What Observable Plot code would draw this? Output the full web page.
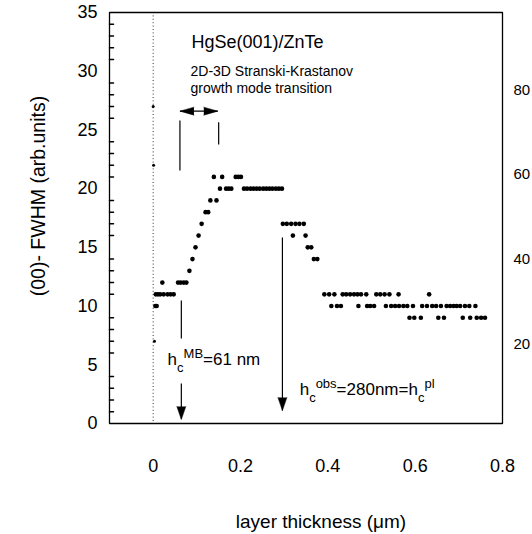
<!DOCTYPE html>
<html><head><meta charset="utf-8">
<script src="https://cdn.jsdelivr.net/npm/d3@7"></script>
<script src="https://cdn.jsdelivr.net/npm/@observablehq/plot@0.6"></script>
<style>html,body{margin:0;padding:0;background:#fff}#chart{position:relative;width:532px;height:534px}</style>
</head><body><div id="chart"></div>
<script>
// ---- data ----
const startThickness = [0.000, 0.001, 0.003];
const startFwhm = [27, 22, 7];

const thickness = [
  0.005, 0.008, 0.006, 0.011, 0.016, 0.021, 0.024, 0.033, 0.040, 0.047,
  0.057, 0.063, 0.070, 0.076, 0.083, 0.090, 0.097, 0.104, 0.111, 0.120,
  0.126, 0.131, 0.139, 0.145, 0.153, 0.158, 0.167, 0.173, 0.179, 0.189,
  0.195, 0.201, 0.208, 0.215, 0.223, 0.230, 0.237, 0.244, 0.252, 0.259,
  0.266, 0.273, 0.281, 0.288, 0.295, 0.297, 0.306, 0.316, 0.320, 0.326,
  0.335, 0.345, 0.349, 0.354, 0.362, 0.368, 0.376, 0.392, 0.403, 0.408,
  0.415, 0.421, 0.430, 0.434, 0.442, 0.451, 0.460, 0.468, 0.470, 0.476,
  0.488, 0.490, 0.497, 0.506, 0.511, 0.520, 0.530, 0.533, 0.541, 0.545,
  0.554, 0.562, 0.563, 0.573, 0.582, 0.587, 0.595, 0.598, 0.613, 0.616,
  0.627, 0.632, 0.639, 0.648, 0.653, 0.659, 0.666, 0.672, 0.680, 0.688,
  0.695, 0.703, 0.709, 0.714, 0.724, 0.726, 0.738, 0.741, 0.751, 0.760
];
const fwhm = [
  10, 10, 11, 11, 11, 12, 11, 11, 11, 11,
  12, 12, 12, 12, 13, 14, 15, 16, 17, 18,
  18, 19, 21, 19, 20, 21, 20, 20, 20, 21,
  21, 21, 20, 20, 20, 20, 20, 20, 20, 20,
  20, 20, 20, 20, 20, 17, 17, 17, 16, 17,
  17, 17, 16, 15, 15, 14, 14, 11, 11, 10,
  11, 10, 10, 11, 11, 11, 11, 11, 10, 11,
  11, 10, 10, 10, 11, 11, 11, 10, 11, 10,
  10, 11, 10, 10, 10, 9, 10, 9, 9, 10,
  10, 11, 10, 10, 9, 10, 9, 10, 10, 10,
  10, 10, 9, 10, 10, 9, 10, 9, 9, 9
];

// axes
const xDomain = [-0.1, 0.8];
const yDomain = [0, 35];
const xTickLabels = [0, 0.2, 0.4, 0.6, 0.8];
const yTickLabels = [0, 5, 10, 15, 20, 25, 30, 35];
const rightTickLabels = [20, 40, 60, 80];
const rightDomain = [1.2, 98.3];   // right-hand scale at bottom / top of frame
const xTitle = "layer thickness (\u03bcm)";
const yTitle = "(00)- FWHM (arb.units)";
const title = "HgSe(001)/ZnTe";
const subtitle1 = "2D-3D Stranski-Krastanov";
const subtitle2 = "growth mode transition";

// annotations (data coordinates)
const guideLines = [
  {x1: 0.0613, y1: 25.8, x2: 0.0613, y2: 21.55},
  {x1: 0.150, y1: 25.66, x2: 0.150, y2: 23.76},
  {x1: 0.0613, y1: 26.6, x2: 0.148, y2: 26.6},
  {x1: 0.0645, y1: 10.48, x2: 0.0645, y2: 7.24},
  {x1: 0.0645, y1: 3.4, x2: 0.0645, y2: 0.4},
  {x1: 0.296, y1: 15.84, x2: 0.296, y2: 1.1}
];
const arrowHeads = [
  {x: 0.0645, y: 0.34, rotate: 180},
  {x: 0.296, y: 1.1, rotate: 180}
];
const spanHeads = [
  {x: 0.0613, y: 26.6, rotate: -90},
  {x: 0.148, y: 26.6, rotate: 90}
];
const richLabels = [
  {x: 0.0331, y: 4.94, parts: [["h", "n"], ["c", "sub"], ["MB", "sup"], ["=61 nm", "n"]]},
  {x: 0.3355, y: 2.385, parts: [["h", "n"], ["c", "sub"], ["obs", "sup"], ["=280nm=h", "n"], ["c", "sub"], ["pl", "sup"]]}
];

// ---- layout ----
const W = 532, H = 534, mL = 109, mR = 30, mT = 12, mB = 111;
const toLeft = d3.scaleLinear().domain(rightDomain).range(yDomain);
const font = "'Liberation Sans', Arial, Helvetica, sans-serif";

const yMinor = d3.range(1, 35).filter(d => d % 5 !== 0);
const frameEdges = [
  {x1: xDomain[0], y1: yDomain[0], x2: xDomain[1], y2: yDomain[0]},
  {x1: xDomain[0], y1: yDomain[1], x2: xDomain[1], y2: yDomain[1]},
  {x1: xDomain[0], y1: yDomain[0], x2: xDomain[0], y2: yDomain[1]},
  {x1: xDomain[1], y1: yDomain[0], x2: xDomain[1], y2: yDomain[1]}
];
const tickShape = {draw(context, l) { context.moveTo(0, 0); context.lineTo(0, -l); }};

// layer 1: axes, frame and data
const base = Plot.plot({
  width: W, height: H,
  marginLeft: mL, marginRight: mR, marginTop: mT, marginBottom: mB,
  x: {domain: xDomain},
  y: {domain: yDomain},
  style: {background: "white", color: "black", fontFamily: font, overflow: "visible"},
  marks: [
    Plot.ruleX([0], {stroke: "#333", strokeWidth: 1, strokeDasharray: "1,2.4"}),
    Plot.vector(yMinor, {x: () => xDomain[0], y: d => d, rotate: 90, length: 4, anchor: "start", shape: tickShape, stroke: "black"}),
    Plot.axisY(yTickLabels, {anchor: "left", tickSize: 0, tickPadding: 12, fontSize: 18, label: null}),
    Plot.axisX(xTickLabels, {anchor: "bottom", tickSize: 0, tickPadding: 36, fontSize: 18, tickFormat: d => String(d), label: null}),
    Plot.text(rightTickLabels, {y: d => toLeft(d), text: d => String(d), frameAnchor: "right", textAnchor: "start", dx: 11, fontSize: 15}),
    Plot.dot(startFwhm, {x: startThickness, y: startFwhm, r: 1.5, fill: "black"}),
    Plot.dot(fwhm, {x: thickness, y: fwhm, r: 2.3, fill: "black"}),
    Plot.link(frameEdges, {x1: "x1", y1: "y1", x2: "x2", y2: "y2", stroke: "black", strokeWidth: 1.3}),
    Plot.frame({stroke: "black"})
  ]
});

// layer 2: titles and annotations, same scales, transparent, on top
const overlay = Plot.plot({
  width: W, height: H,
  marginLeft: mL, marginRight: mR, marginTop: mT, marginBottom: mB,
  x: {domain: xDomain, axis: null},
  y: {domain: yDomain, axis: null},
  style: {background: "none", color: "black", fontFamily: font, overflow: "visible", position: "absolute", left: "0px", top: "0px"},
  marks: [
    Plot.text([xTitle], {text: d => d, frameAnchor: "bottom", textAnchor: "middle", lineAnchor: "bottom", dx: 15, dy: 104, fontSize: 19}),
    Plot.text([yTitle], {text: d => d, frameAnchor: "left", textAnchor: "middle", rotate: -90, dx: -71, dy: -22, fontSize: 19.5}),
    Plot.text([title], {text: d => d, frameAnchor: "top-left", textAnchor: "start", lineAnchor: "bottom", dx: 82, dy: 35, fontSize: 18}),
    Plot.text([subtitle1], {text: d => d, frameAnchor: "top-left", textAnchor: "start", lineAnchor: "bottom", dx: 81, dy: 63, fontSize: 14}),
    Plot.text([subtitle2], {text: d => d, frameAnchor: "top-left", textAnchor: "start", lineAnchor: "bottom", dx: 81, dy: 80, fontSize: 14}),
    Plot.link(guideLines, {x1: "x1", y1: "y1", x2: "x2", y2: "y2", stroke: "black", strokeWidth: 1.2}),
    Plot.vector(arrowHeads, {x: "x", y: "y", rotate: "rotate", length: 13, r: 4.5, anchor: "end", shape: "spike", fill: "black", stroke: "black", strokeWidth: 0.5}),
    Plot.vector(spanHeads, {x: "x", y: "y", rotate: "rotate", length: 14, r: 4, anchor: "end", shape: "spike", fill: "black", stroke: "black", strokeWidth: 0.5}),
    Plot.text(richLabels, {x: "x", y: "y", text: d => d.parts.map(p => p[0]).join(""), textAnchor: "start", lineAnchor: "bottom", fontSize: 17})
  ]
});

// rebuild sub/superscripts of annotation labels
const shifts = {n: 0, sub: 7, sup: -7};
const sizes = {n: 17, sub: 13, sup: 13};
richLabels.forEach(lab => {
  const plain = lab.parts.map(p => p[0]).join("");
  d3.select(overlay).selectAll("text").filter(function() { return this.textContent === plain; }).each(function() {
    const t = d3.select(this);
    t.text(null);
    let cur = 0;
    lab.parts.forEach(([s, k]) => {
      t.append("tspan").attr("dy", shifts[k] - cur).attr("font-size", sizes[k]).text(s);
      cur = shifts[k];
    });
  });
});

const chart = document.getElementById("chart");
chart.append(base);
chart.append(overlay);
</script></body></html>
